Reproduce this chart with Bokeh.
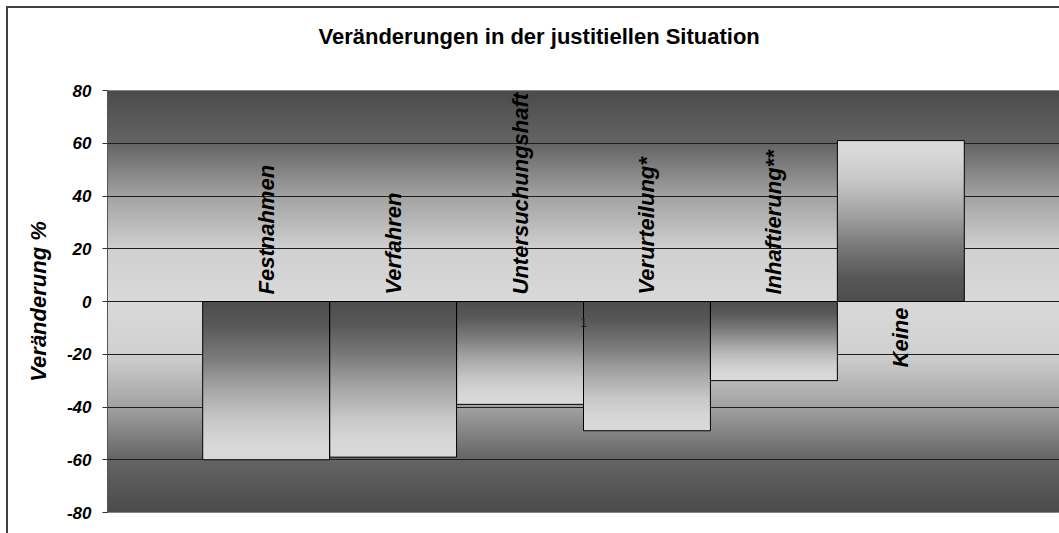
import numpy as np
from bokeh.plotting import figure
from bokeh.models import Range1d, FixedTicker, ColumnDataSource, Title
from bokeh.core.properties import value
from bokeh.embed import file_html
from bokeh.resources import INLINE

# ---------------- data ----------------
title_text = "Veränderungen in der justitiellen Situation"
y_label = "Veränderung %"
category = ["1"]
series = ["Festnahmen", "Verfahren", "Untersuchungshaft",
          "Verurteilung*", "Inhaftierung**", "Keine"]
values = [-60, -59, -39, -49, -30, 61]
y_ticks = [-80, -60, -40, -20, 0, 20, 40, 60, 80]

# ---------------- style ----------------
FONT = "Liberation Sans"
gap_width = 1.5  # Excel gap width 150 %
bg_stops = [0.0, 0.25, 0.5, 0.75, 1.0]        # |y| / 80
bg_levels = [217, 208, 162, 100, 75]
bar_stops = [0.0, 0.15, 0.35, 0.55, 0.75, 0.9, 1.0]  # fraction base -> tip
bar_levels = [77, 88, 122, 165, 200, 215, 217]


def grey_image(levels):
    levels = np.clip(np.round(levels), 0, 255).astype(np.uint8)
    rows = len(levels)
    img = np.empty((rows, 1), dtype=np.uint32)
    view = img.view(dtype=np.uint8).reshape((rows, 1, 4))
    view[:, 0, 0] = levels
    view[:, 0, 1] = levels
    view[:, 0, 2] = levels
    view[:, 0, 3] = 255
    return img


ymin, ymax = y_ticks[0], y_ticks[-1]

p = figure(width=1059, height=533, output_backend="svg", toolbar_location=None,
           x_range=Range1d(0, 1), y_range=Range1d(ymin, ymax),
           x_axis_location=None, title=None,
           min_border_left=107, min_border_right=0, min_border_top=90,
           min_border_bottom=21)
p.styles = {"background-color": "white",
            "box-shadow": "inset 6px 6px 0 0 white, inset 8px 8px 0 0 #404040"}
p.border_fill_color = None
p.background_fill_color = "#d9d9d9"
p.outline_line_color = "#9a9a9a"
p.outline_line_width = 1

# background gradient (plot area)
nb = 422
mids = ymin + (np.arange(nb) + 0.5) * (ymax - ymin) / nb
bg_img = grey_image(np.interp(np.abs(mids) / ymax, bg_stops, bg_levels))
p.image_rgba(image=[bg_img], x=0, y=ymin, dw=1, dh=ymax - ymin, level="image")

# grid
p.xgrid.visible = False
p.ygrid.ticker = FixedTicker(ticks=y_ticks)
p.ygrid.grid_line_color = "#1e1e1e"
p.ygrid.grid_line_width = 1

# bars (series of one category, Excel-style clustered)
n = len(series)
w = 1.0 / (n + gap_width)
centers = [0.5 + (i - (n - 1) / 2) * w for i in range(n)]

N = 200
imgs, xs, ys, dws, dhs = [], [], [], [], []
for xc, v in zip(centers, values):
    f = (np.arange(N) + 0.5) / N          # 0 at base, 1 at tip
    lev = np.interp(f, bar_stops, bar_levels)
    if v < 0:
        lev = lev[::-1]                    # image row 0 is the bottom (tip)
    imgs.append(grey_image(lev))
    xs.append(xc - w / 2)
    ys.append(min(0, v))
    dws.append(w)
    dhs.append(abs(v))
p.image_rgba(image=imgs, x=xs, y=ys, dw=dws, dh=dhs)

bar_src = ColumnDataSource(dict(
    left=[c - w / 2 for c in centers], right=[c + w / 2 for c in centers],
    bottom=[min(0, v) for v in values], top=[max(0, v) for v in values],
    x=centers, name=series,
    align=["left" if v < 0 else "right" for v in values],
    yoff=[-7 if v < 0 else 6 for v in values],
))
p.quad(left="left", right="right", bottom="bottom", top="top",
       fill_color=None, line_color="black", line_width=1, source=bar_src)

# category label "1" at the crossing axis
p.text(x=[0.5], y=[0], text=category, text_font=value(FONT),
       text_font_size="12px", text_color="#222222", text_align="center",
       text_baseline="middle", y_offset=21)

# series labels, rotated
p.text(x="x", y=0, text="name", source=bar_src, angle=np.pi / 2,
       text_font=value(FONT), text_font_style="bold italic",
       text_font_size="22px", text_color="black",
       text_align="align", text_baseline="middle", y_offset="yoff")

# y axis
ax = p.yaxis[0]
ax.ticker = FixedTicker(ticks=y_ticks)
ax.major_label_overrides = {t: str(t) for t in y_ticks}
ax.minor_tick_line_color = None
ax.major_tick_in = 0
ax.major_tick_out = 5
ax.major_tick_line_color = "#333333"
ax.axis_line_color = "#555555"
ax.major_label_standoff = 11
ax.major_label_text_font = FONT
ax.major_label_text_font_style = "bold italic"
ax.major_label_text_font_size = "17px"
ax.major_label_text_color = "black"
ax.axis_label = y_label
ax.axis_label_text_font = FONT
ax.axis_label_text_font_style = "bold italic"
ax.axis_label_text_font_size = "22px"
ax.axis_label_text_color = "black"
ax.axis_label_standoff = 13

# spacer between frame and title, then the title itself
p.add_layout(Title(text=" ", text_font_size="1px", standoff=39), "above")
p.add_layout(Title(text=title_text, align="left", offset=211, standoff=0,
                   text_font=FONT, text_font_style="bold",
                   text_font_size="22px", text_color="black"), "above")

open("out.html", "w").write(file_html(p, INLINE))
